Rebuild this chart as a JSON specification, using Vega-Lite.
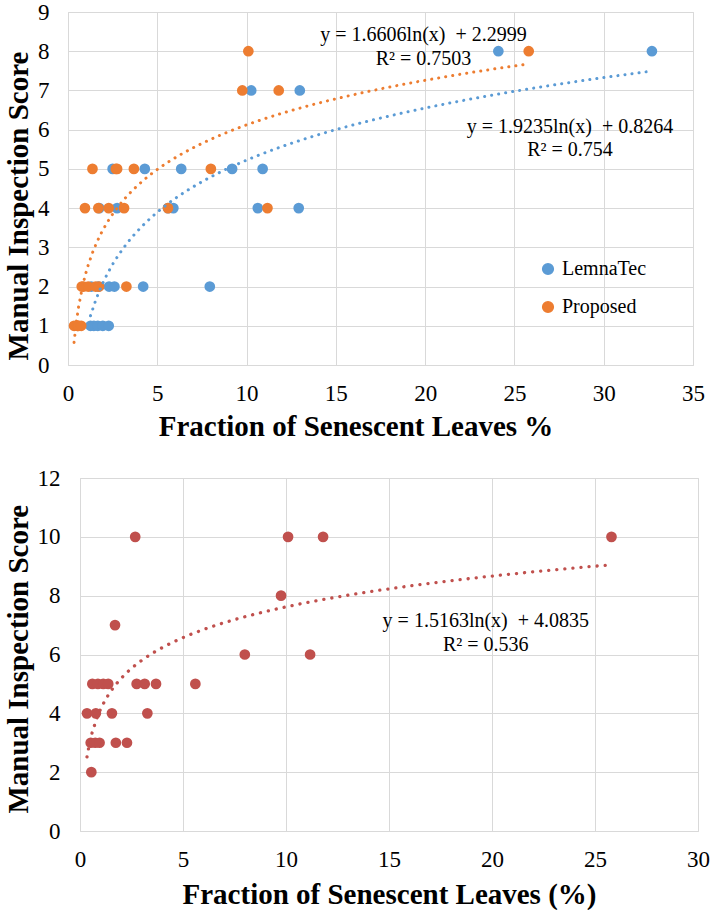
{
  "$schema": "https://vega.github.io/schema/vega-lite/v6.json",
  "padding": {"left": 3, "top": 0, "right": 0, "bottom": 0},
  "background": "white",
  "config": {
    "font": "Liberation Serif",
    "view": {"stroke": "#d9d9d9"},
    "axis": {
      "grid": true, "gridColor": "#d9d9d9", "gridWidth": 1,
      "domain": false, "ticks": false, "tickSize": 0,
      "labelOverlap": false, "labelFlush": false,
      "labelFont": "Liberation Serif", "labelFontSize": 23, "labelColor": "#000000",
      "titleFont": "Liberation Serif", "titleFontWeight": "bold", "titleColor": "#000000"
    },
    "axisX": {"labelPadding": 28, "labelBaseline": "middle", "titleBaseline": "alphabetic", "titleAlign": "center"},
    "axisY": {"labelPadding": 19, "labelBaseline": "middle", "titleBaseline": "middle", "titleAlign": "center", "titleAngle": 270}
  },
  "datasets": {
    "top": [
      {"method": "LemnaTec", "fraction": 1.26, "score": 1},
      {"method": "LemnaTec", "fraction": 1.45, "score": 1},
      {"method": "LemnaTec", "fraction": 1.67, "score": 1},
      {"method": "LemnaTec", "fraction": 1.95, "score": 1},
      {"method": "LemnaTec", "fraction": 2.28, "score": 1},
      {"method": "LemnaTec", "fraction": 1.3, "score": 2},
      {"method": "LemnaTec", "fraction": 1.7, "score": 2},
      {"method": "LemnaTec", "fraction": 2.3, "score": 2},
      {"method": "LemnaTec", "fraction": 2.6, "score": 2},
      {"method": "LemnaTec", "fraction": 4.21, "score": 2},
      {"method": "LemnaTec", "fraction": 7.94, "score": 2},
      {"method": "LemnaTec", "fraction": 1.75, "score": 4},
      {"method": "LemnaTec", "fraction": 2.75, "score": 4},
      {"method": "LemnaTec", "fraction": 5.6, "score": 4},
      {"method": "LemnaTec", "fraction": 5.9, "score": 4},
      {"method": "LemnaTec", "fraction": 10.63, "score": 4},
      {"method": "LemnaTec", "fraction": 12.92, "score": 4},
      {"method": "LemnaTec", "fraction": 2.5, "score": 5},
      {"method": "LemnaTec", "fraction": 4.3, "score": 5},
      {"method": "LemnaTec", "fraction": 6.34, "score": 5},
      {"method": "LemnaTec", "fraction": 9.19, "score": 5},
      {"method": "LemnaTec", "fraction": 10.9, "score": 5},
      {"method": "LemnaTec", "fraction": 10.26, "score": 7},
      {"method": "LemnaTec", "fraction": 12.98, "score": 7},
      {"method": "LemnaTec", "fraction": 24.1, "score": 8},
      {"method": "LemnaTec", "fraction": 32.7, "score": 8},
      {"method": "Proposed", "fraction": 0.34, "score": 1},
      {"method": "Proposed", "fraction": 0.52, "score": 1},
      {"method": "Proposed", "fraction": 0.55, "score": 1},
      {"method": "Proposed", "fraction": 0.6, "score": 1},
      {"method": "Proposed", "fraction": 0.74, "score": 1},
      {"method": "Proposed", "fraction": 0.77, "score": 2},
      {"method": "Proposed", "fraction": 0.87, "score": 2},
      {"method": "Proposed", "fraction": 0.95, "score": 4},
      {"method": "Proposed", "fraction": 1.13, "score": 2},
      {"method": "Proposed", "fraction": 1.37, "score": 5},
      {"method": "Proposed", "fraction": 1.55, "score": 2},
      {"method": "Proposed", "fraction": 1.7, "score": 4},
      {"method": "Proposed", "fraction": 1.74, "score": 2},
      {"method": "Proposed", "fraction": 2.28, "score": 4},
      {"method": "Proposed", "fraction": 2.68, "score": 5},
      {"method": "Proposed", "fraction": 2.75, "score": 5},
      {"method": "Proposed", "fraction": 3.14, "score": 4},
      {"method": "Proposed", "fraction": 3.27, "score": 2},
      {"method": "Proposed", "fraction": 3.69, "score": 5},
      {"method": "Proposed", "fraction": 5.6, "score": 4},
      {"method": "Proposed", "fraction": 8.0, "score": 5},
      {"method": "Proposed", "fraction": 9.76, "score": 7},
      {"method": "Proposed", "fraction": 10.1, "score": 8},
      {"method": "Proposed", "fraction": 11.17, "score": 4},
      {"method": "Proposed", "fraction": 11.8, "score": 7},
      {"method": "Proposed", "fraction": 25.8, "score": 8}
    ],
    "bottom": [
      {"fraction": 0.34, "score": 4},
      {"fraction": 0.52, "score": 3},
      {"fraction": 0.55, "score": 2},
      {"fraction": 0.6, "score": 5},
      {"fraction": 0.77, "score": 4},
      {"fraction": 0.74, "score": 3},
      {"fraction": 0.87, "score": 5},
      {"fraction": 0.95, "score": 3},
      {"fraction": 1.13, "score": 5},
      {"fraction": 1.37, "score": 5},
      {"fraction": 1.55, "score": 4},
      {"fraction": 1.7, "score": 7},
      {"fraction": 1.74, "score": 3},
      {"fraction": 2.28, "score": 3},
      {"fraction": 2.68, "score": 10},
      {"fraction": 2.75, "score": 5},
      {"fraction": 3.14, "score": 5},
      {"fraction": 3.27, "score": 4},
      {"fraction": 3.69, "score": 5},
      {"fraction": 5.6, "score": 5},
      {"fraction": 8.0, "score": 6},
      {"fraction": 9.76, "score": 8},
      {"fraction": 10.1, "score": 10},
      {"fraction": 11.17, "score": 6},
      {"fraction": 11.8, "score": 10},
      {"fraction": 25.8, "score": 10}
    ]
  },
  "spacing": 24,
  "vconcat": [
    {
      "width": 625,
      "height": 353,
      "data": {"name": "top"},
      "layer": [
        {
          "mark": {"type": "point", "filled": true, "opacity": 1, "size": 115},
          "encoding": {
            "x": {"field": "fraction", "type": "quantitative",
                  "scale": {"domain": [0, 35], "nice": false, "zero": false},
                  "axis": {"values": [0, 5, 10, 15, 20, 25, 30, 35], "title": "Fraction of Senescent Leaves %",
                           "titleFontSize": 29, "titleX": 287.5, "titleY": 70}},
            "y": {"field": "score", "type": "quantitative",
                  "scale": {"domain": [0, 9], "nice": false, "zero": false},
                  "axis": {"values": [0, 1, 2, 3, 4, 5, 6, 7, 8, 9], "title": "Manual Inspection Score",
                           "titleFontSize": 29, "titleX": -49.4, "titleY": 193.5}},
            "color": {"field": "method", "type": "nominal",
                      "scale": {"domain": ["LemnaTec", "Proposed"], "range": ["#5B9BD5", "#ED7D31"]},
                      "legend": {"title": null, "orient": "none", "legendX": 470, "legendY": 247,
                                 "symbolType": "circle", "symbolSize": 115, "symbolOpacity": 1,
                                 "labelFont": "Liberation Serif", "labelFontSize": 20, "labelColor": "#000000",
                                 "labelOffset": 4, "rowPadding": 18, "padding": 0}}
          }
        },
        {
          "transform": [{"regression": "score", "on": "fraction", "method": "log", "groupby": ["method"]}],
          "mark": {"type": "line", "strokeDash": [0.1, 7], "strokeCap": "round", "strokeWidth": 3},
          "encoding": {
            "x": {"field": "fraction", "type": "quantitative",
                  "scale": {"domain": [0, 35], "nice": false, "zero": false},
                  "axis": {"values": [0, 5, 10, 15, 20, 25, 30, 35], "title": "Fraction of Senescent Leaves %",
                           "titleFontSize": 29, "titleX": 287.5, "titleY": 70}},
            "y": {"field": "score", "type": "quantitative",
                  "scale": {"domain": [0, 9], "nice": false, "zero": false},
                  "axis": {"values": [0, 1, 2, 3, 4, 5, 6, 7, 8, 9], "title": "Manual Inspection Score",
                           "titleFontSize": 29, "titleX": -49.4, "titleY": 193.5}},
            "stroke": {"field": "method", "type": "nominal",
                       "scale": {"domain": ["LemnaTec", "Proposed"], "range": ["#5B9BD5", "#ED7D31"]},
                       "legend": null}
          }
        },
        {
          "data": {"values": [{}]},
          "mark": {"type": "text", "font": "Liberation Serif", "fontSize": 20, "align": "center", "baseline": "alphabetic", "lineHeight": 24, "color": "#000000"},
          "encoding": {
            "x": {"datum": 19.91, "type": "quantitative",
                  "scale": {"domain": [0, 35], "nice": false, "zero": false},
                  "axis": {"values": [0, 5, 10, 15, 20, 25, 30, 35], "title": "Fraction of Senescent Leaves %",
                           "titleFontSize": 29, "titleX": 287.5, "titleY": 70}},
            "y": {"datum": 8.26, "type": "quantitative",
                  "scale": {"domain": [0, 9], "nice": false, "zero": false},
                  "axis": {"values": [0, 1, 2, 3, 4, 5, 6, 7, 8, 9], "title": "Manual Inspection Score",
                           "titleFontSize": 29, "titleX": -49.4, "titleY": 193.5}},
            "text": {"value": ["y = 1.6606ln(x)\u00a0 + 2.2999", "R² = 0.7503"]}
          }
        },
        {
          "data": {"values": [{}]},
          "mark": {"type": "text", "font": "Liberation Serif", "fontSize": 20, "align": "center", "baseline": "alphabetic", "lineHeight": 23.5, "color": "#000000"},
          "encoding": {
            "x": {"datum": 28.11, "type": "quantitative",
                  "scale": {"domain": [0, 35], "nice": false, "zero": false},
                  "axis": {"values": [0, 5, 10, 15, 20, 25, 30, 35], "title": "Fraction of Senescent Leaves %",
                           "titleFontSize": 29, "titleX": 287.5, "titleY": 70}},
            "y": {"datum": 5.92, "type": "quantitative",
                  "scale": {"domain": [0, 9], "nice": false, "zero": false},
                  "axis": {"values": [0, 1, 2, 3, 4, 5, 6, 7, 8, 9], "title": "Manual Inspection Score",
                           "titleFontSize": 29, "titleX": -49.4, "titleY": 193.5}},
            "text": {"value": ["y = 1.9235ln(x)\u00a0 + 0.8264", "R² = 0.754"]}
          }
        }
      ]
    },
    {
      "hconcat": [
        {
          "width": 12,
          "height": 1,
          "view": {"stroke": null},
          "data": {"values": []},
          "mark": "point",
          "encoding": {}
        },
        {
          "width": 618,
          "height": 353,
          "data": {"name": "bottom"},
          "layer": [
            {
              "mark": {"type": "point", "filled": true, "opacity": 1, "size": 115, "color": "#C0504D"},
              "encoding": {
                "x": {"field": "fraction", "type": "quantitative",
                      "scale": {"domain": [0, 30], "nice": false, "zero": false},
                      "axis": {"values": [0, 5, 10, 15, 20, 25, 30], "title": "Fraction of Senescent Leaves (%)",
                               "titleFontSize": 29, "titleX": 309, "titleY": 72}},
                "y": {"field": "score", "type": "quantitative",
                      "scale": {"domain": [0, 12], "nice": false, "zero": false},
                      "axis": {"values": [0, 2, 4, 6, 8, 10, 12], "title": "Manual Inspection Score",
                               "titleFontSize": 29, "titleX": -61.6, "titleY": 180.7, "labelPadding": 20}}
              }
            },
            {
              "transform": [{"regression": "score", "on": "fraction", "method": "log"}],
              "mark": {"type": "line", "strokeDash": [0.1, 8], "strokeCap": "round", "strokeWidth": 3.3, "color": "#C0504D"},
              "encoding": {
                "x": {"field": "fraction", "type": "quantitative",
                      "scale": {"domain": [0, 30], "nice": false, "zero": false},
                      "axis": {"values": [0, 5, 10, 15, 20, 25, 30], "title": "Fraction of Senescent Leaves (%)",
                               "titleFontSize": 29, "titleX": 309, "titleY": 72}},
                "y": {"field": "score", "type": "quantitative",
                      "scale": {"domain": [0, 12], "nice": false, "zero": false},
                      "axis": {"values": [0, 2, 4, 6, 8, 10, 12], "title": "Manual Inspection Score",
                               "titleFontSize": 29, "titleX": -61.6, "titleY": 180.7, "labelPadding": 20}}
              }
            },
            {
              "data": {"values": [{}]},
              "mark": {"type": "text", "font": "Liberation Serif", "fontSize": 20, "align": "center", "baseline": "alphabetic", "lineHeight": 24.4, "color": "#000000"},
              "encoding": {
                "x": {"datum": 19.7, "type": "quantitative",
                      "scale": {"domain": [0, 30], "nice": false, "zero": false},
                      "axis": {"values": [0, 5, 10, 15, 20, 25, 30], "title": "Fraction of Senescent Leaves (%)",
                               "titleFontSize": 29, "titleX": 309, "titleY": 72}},
                "y": {"datum": 6.94, "type": "quantitative",
                      "scale": {"domain": [0, 12], "nice": false, "zero": false},
                      "axis": {"values": [0, 2, 4, 6, 8, 10, 12], "title": "Manual Inspection Score",
                               "titleFontSize": 29, "titleX": -61.6, "titleY": 180.7, "labelPadding": 20}},
                "text": {"value": ["y = 1.5163ln(x)\u00a0 + 4.0835", "R² = 0.536"]}
              }
            }
          ]
        }
      ],
      "spacing": 0,
      "bounds": "flush"
    }
  ]
}
